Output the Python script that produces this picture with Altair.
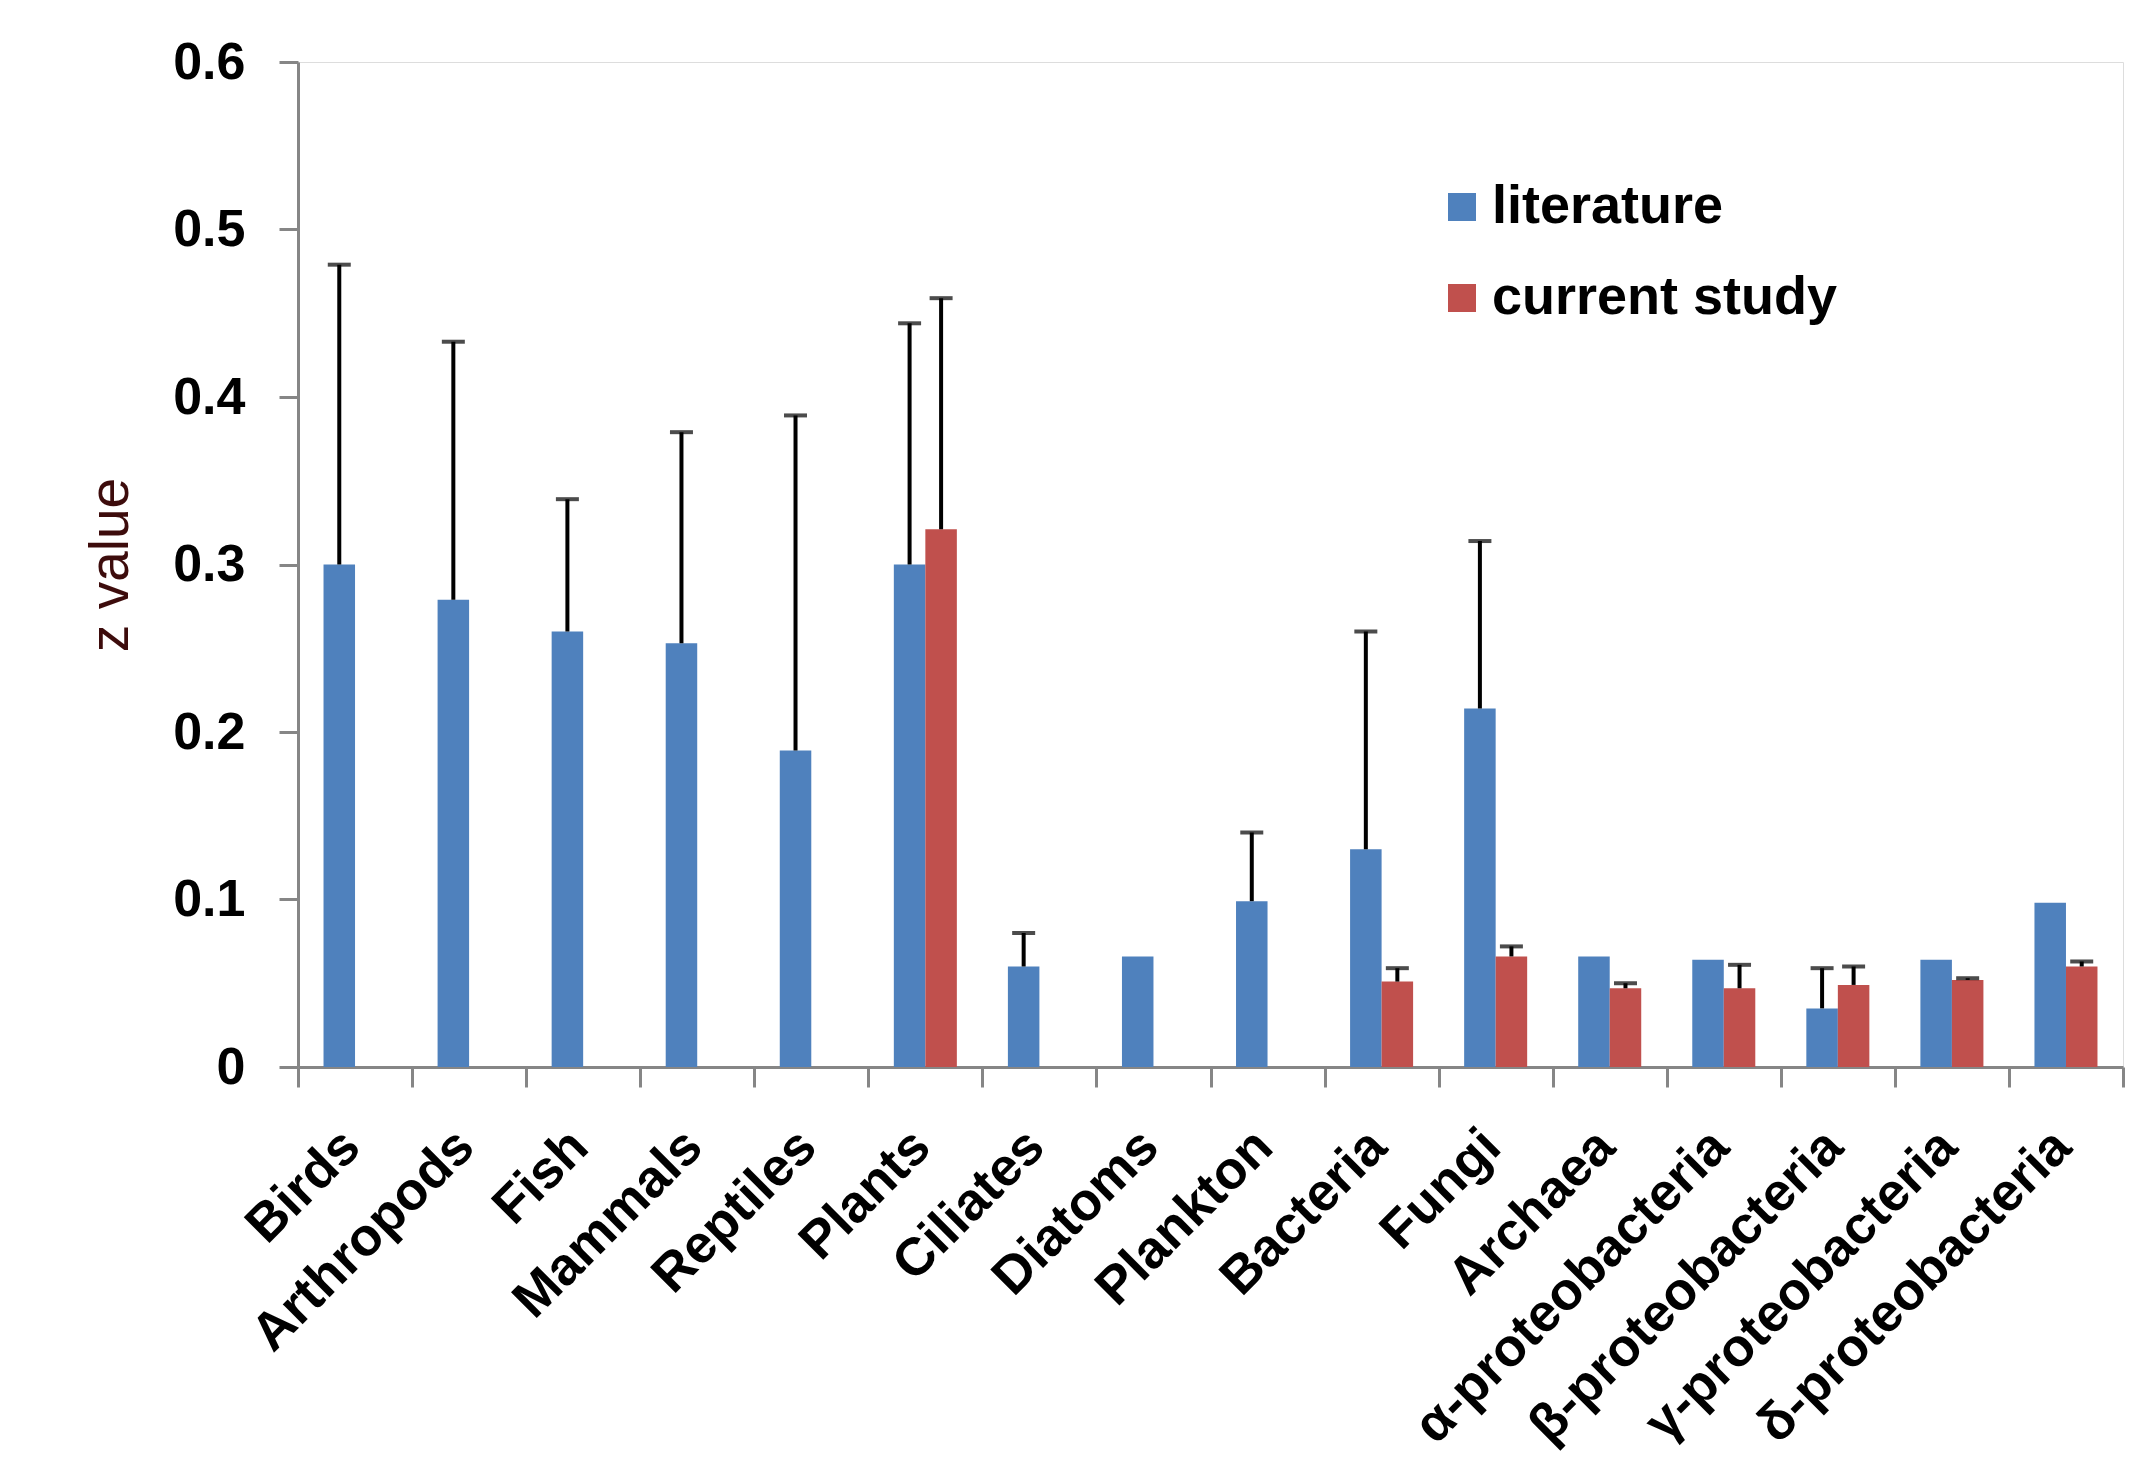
import altair as alt
import pandas as pd

categories = ["Birds", "Arthropods", "Fish", "Mammals", "Reptiles", "Plants",
              "Ciliates", "Diatoms", "Plankton", "Bacteria", "Fungi", "Archaea",
              "α-proteobacteria", "β-proteobacteria", "γ-proteobacteria", "δ-proteobacteria"]
series = ["literature", "current study"]
colors = ["#4F81BD", "#C0504D"]

lit_values = [0.300, 0.279, 0.260, 0.253, 0.189, 0.300, 0.060, 0.066, 0.099, 0.130,
              0.214, 0.066, 0.064, 0.035, 0.064, 0.098]
lit_upper = [0.479, 0.433, 0.339, 0.379, 0.389, 0.444, 0.080, None, 0.140, 0.260,
             0.314, None, None, 0.059, None, None]
cur_values = [None, None, None, None, None, 0.321, None, None, None, 0.051,
              0.066, 0.047, 0.047, 0.049, 0.052, 0.060]
cur_upper = [None, None, None, None, None, 0.459, None, None, None, 0.059,
             0.072, 0.050, 0.061, 0.060, 0.053, 0.063]

rows = []
for i, c in enumerate(categories):
    for s, vals, ups in ((series[0], lit_values, lit_upper), (series[1], cur_values, cur_upper)):
        rows.append({"category": c, "series": s, "value": vals[i], "upper": ups[i]})
df = pd.DataFrame(rows)

FONT = "Liberation Sans"
AXIS_GREY = "#868686"

x_enc = alt.X(
    "category:N",
    scale=alt.Scale(domain=categories, paddingInner=0, paddingOuter=0),
    title=None,
    axis=alt.Axis(
        labelAngle=-45, labelAlign="right", labelBaseline="middle",
        labelFont=FONT, labelFontSize=53, labelFontWeight="bold", labelColor="black",
        labelPadding=51, labelOffset=-4, labelLimit=800,
        tickBand="extent", tickSize=20, tickWidth=3, tickColor=AXIS_GREY,
        domainColor=AXIS_GREY, domainWidth=3, grid=False,
    ),
)
xoff_enc = alt.XOffset("series:N", scale=alt.Scale(domain=series, paddingInner=0, paddingOuter=0.81))
y_enc = alt.Y(
    "value:Q",
    scale=alt.Scale(domain=[0, 0.6], nice=False),
    title="z value",
    axis=alt.Axis(
        values=[0, 0.1, 0.2, 0.3, 0.4, 0.5, 0.6],
        labelExpr="datum.value == 0 ? '0' : format(datum.value, '.1f')",
        labelFont=FONT, labelFontSize=52, labelFontWeight="bold", labelColor="black",
        labelPadding=34, tickSize=19, tickWidth=3, tickColor=AXIS_GREY,
        domainColor=AXIS_GREY, domainWidth=3, grid=False,
        titleFont=FONT, titleFontSize=55, titleFontWeight="normal", titleColor="#3d0c0c",
        titlePadding=33,
    ),
)

base = alt.Chart(df)

bars = base.mark_bar().encode(
    x=x_enc,
    xOffset=xoff_enc,
    y=y_enc,
    color=alt.Color(
        "series:N",
        scale=alt.Scale(domain=series, range=colors),
        legend=alt.Legend(
            title=None, orient="none", legendX=1137, legendY=118,
            symbolType="square", symbolSize=784, symbolStrokeWidth=0,
            labelFont=FONT, labelFontSize=54, labelFontWeight="bold", labelColor="black",
            labelOffset=3, rowPadding=37, labelLimit=800, padding=0,
        ),
    ),
)

err = base.transform_filter("isValid(datum.upper)").mark_rule(color="black", strokeWidth=4).encode(
    x=x_enc, xOffset=xoff_enc, y=y_enc, y2="upper:Q",
)
caps = base.transform_filter("isValid(datum.upper)").mark_tick(color="black", thickness=4, size=23).encode(
    x=x_enc, xOffset=xoff_enc, y=alt.Y("upper:Q", scale=alt.Scale(domain=[0, 0.6], nice=False)),
)

chart = alt.layer(bars, err, caps).properties(
    width=1825, height=1005,
    autosize=alt.AutoSizeParams(type="none"),
    padding={"left": 290, "top": 54, "right": 17, "bottom": 393},
).configure_view(stroke=None).configure(background="white")

chart.save("out.html", embed_options={"renderer": "svg", "actions": False})
